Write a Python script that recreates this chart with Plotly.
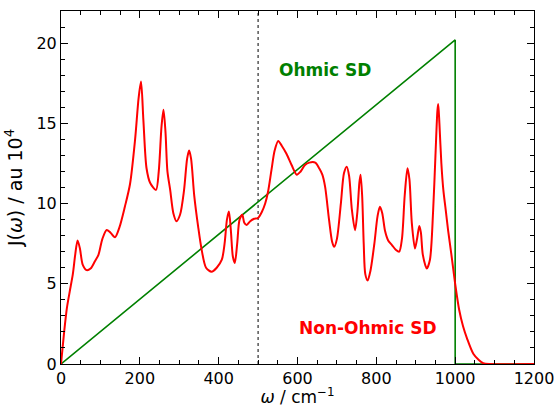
import plotly.graph_objects as go

# Non-Ohmic spectral density
nonohmic_w = [0, 8, 15, 22, 30, 36, 42, 48, 55, 65, 75, 86, 95, 105, 116, 125, 137, 148, 162, 175,
              188, 197, 203, 209, 217, 226, 241, 248, 255, 260, 265, 270, 277, 285, 293, 302, 312,
              320, 325, 330, 338, 348, 357, 368, 382, 395, 408, 415, 421, 426, 431, 436, 441, 447,
              453, 460, 465, 471, 480, 490, 500, 510, 518, 525, 534, 542, 551, 560, 572, 585, 598,
              608, 619, 630, 645, 655, 663, 670, 680, 688, 693, 700, 710, 718, 725, 731, 738, 746,
              752, 757, 760, 764, 768, 772, 778, 785, 795, 803, 809, 815, 822, 830, 840, 850, 858,
              865, 872, 879, 884, 890, 898, 904, 909, 913, 918, 928, 936, 944, 950, 955, 957, 960,
              965, 970, 976, 982, 990, 1000, 1010, 1020, 1030, 1046, 1060, 1071, 1090, 1200]
nonohmic_J = [0, 2.0, 3.5, 4.5, 5.6, 6.8, 7.7, 7.2, 6.2, 5.85, 5.95, 6.4, 6.8, 7.8, 8.35, 8.2, 7.9, 8.5, 9.8, 11.2,
              14.0, 16.6, 17.6, 15.2, 12.2, 11.3, 10.85, 12.0, 14.8, 15.85, 14.5, 12.0, 10.85, 9.4, 8.9, 9.3, 10.8,
              12.8, 13.3, 12.8, 10.5, 8.55, 7.1, 6.0, 5.75, 6.0, 6.5, 7.5, 9.0, 9.5, 8.3, 6.7, 6.3, 7.5,
              9.0, 9.3, 8.8, 8.66, 8.9, 9.05, 9.1, 9.5, 10.0, 10.7, 12.1, 13.3, 13.9, 13.6, 13.1, 12.4, 11.8,
              12.0, 12.4, 12.55, 12.55, 12.2, 11.8, 11.05, 9.0, 7.6, 7.3, 7.8, 10.0, 11.9, 12.3, 11.7, 9.6, 8.34,
              9.5, 11.3, 11.8, 10.5, 7.5, 5.6, 5.2, 5.8, 7.5, 9.2, 9.8, 9.4, 8.3, 7.7, 7.4, 7.1, 7.0,
              7.8, 10.5, 12.2, 11.5, 8.8, 7.2, 7.9, 8.6, 8.2, 6.8, 5.95, 6.5, 9.5, 13.0, 15.8, 16.2, 15.0,
              12.5, 10.85, 9.6, 8.35, 6.9, 5.0, 3.4, 2.35, 1.6, 0.64, 0.25, 0.05, 0.0, 0.0]

# Ohmic spectral density
ohmic_w = [0, 1000, 1000, 1200]
ohmic_J = [0, 20.2, 0, 0]

divider_w = 500
x_ticks = [0, 200, 400, 600, 800, 1000, 1200]
y_ticks = [0, 5, 10, 15, 20]

fig = go.Figure()
fig.add_trace(go.Scatter(x=ohmic_w, y=ohmic_J, mode="lines",
                         line=dict(color="green", width=1.6), showlegend=False))
fig.add_trace(go.Scatter(x=nonohmic_w, y=nonohmic_J, mode="lines",
                         line=dict(color="red", width=2, shape="spline", smoothing=0.8),
                         showlegend=False))

fig.add_shape(type="line", x0=divider_w, x1=divider_w, y0=0, y1=1, xref="x", yref="paper",
              line=dict(color="black", width=1, dash="dot"), layer="below")

fig.add_annotation(x=670, y=18.35, text="<b>Ohmic SD</b>", showarrow=False,
                   font=dict(color="green", size=17, family="DejaVu Sans"))
fig.add_annotation(x=779, y=2.25, text="<b>Non-Ohmic SD</b>", showarrow=False,
                   font=dict(color="red", size=17, family="DejaVu Sans"))

axis_common = dict(showgrid=False, zeroline=False, showline=True, linecolor="black", linewidth=1,
                   mirror="allticks", ticks="inside", ticklen=7, tickwidth=1, tickcolor="black",
                   automargin=False,
                   tickfont=dict(size=16, color="black", family="DejaVu Sans"))

fig.update_xaxes(range=[0, 1200], tickvals=x_ticks,
                 minor=dict(ticks="inside", dtick=50, ticklen=4, tickcolor="black", tickwidth=1),
                 title=dict(text="<i>ω</i> / cm<sup>−1</sup>", font=dict(size=17, color="black",
                            family="DejaVu Sans"), standoff=6),
                 **axis_common)
fig.update_yaxes(range=[0, 22], tickvals=y_ticks,
                 minor=dict(ticks="inside", dtick=1, ticklen=4, tickcolor="black", tickwidth=1),
                 title=dict(text="J(<i>ω</i>) / au 10<sup>4</sup>", font=dict(size=19, color="black",
                            family="DejaVu Sans"), standoff=8),
                 **axis_common)

fig.update_layout(width=556, height=407, margin=dict(l=61, r=22, t=11, b=43),
                  plot_bgcolor="white", paper_bgcolor="white",
                  font=dict(family="DejaVu Sans"))

fig.write_html("out.html")
